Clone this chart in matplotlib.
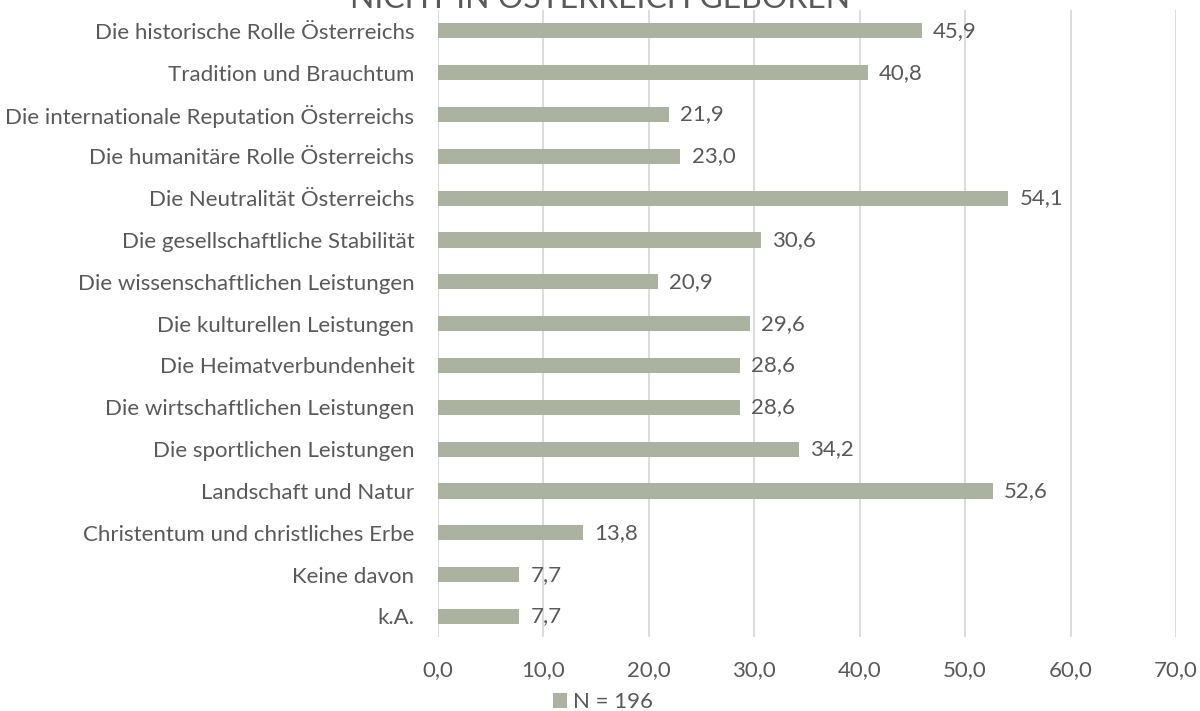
import matplotlib
matplotlib.use('Agg')
import matplotlib.pyplot as plt
import numpy as np

# Data (top to bottom as in the chart)
categories = [
    'Die historische Rolle Österreichs',
    'Tradition und Brauchtum',
    'Die internationale Reputation Österreichs',
    'Die humanitäre Rolle Österreichs',
    'Die Neutralität Österreichs',
    'Die gesellschaftliche Stabilität',
    'Die wissenschaftlichen Leistungen',
    'Die kulturellen Leistungen',
    'Die Heimatverbundenheit',
    'Die wirtschaftlichen Leistungen',
    'Die sportlichen Leistungen',
    'Landschaft und Natur',
    'Christentum und christliches Erbe',
    'Keine davon',
    'k.A.',
]
values = [45.9, 40.8, 21.9, 23.0, 54.1, 30.6, 20.9, 29.6, 28.6, 28.6, 34.2, 52.6, 13.8, 7.7, 7.7]
x_ticks = [0, 10, 20, 30, 40, 50, 60, 70]
series_name = 'N = 196'
title = 'NICHT IN ÖSTERREICH GEBOREN'

plt.rcParams['font.family'] = ['Lato', 'DejaVu Sans']
text_color = '#595959'
bar_color = '#abb3a0'
grid_color = '#d9d9d9'
fs = 16

fig = plt.figure(figsize=(12, 7.11), dpi=100)
ax = fig.add_axes([438 / 1200, 1 - 637.4 / 711, (1176 - 438) / 1200, (637.4 - 9.9) / 711])

y = np.arange(len(categories))
bars = ax.barh(y, values, height=0.36, color=bar_color, label=series_name, zorder=3)

ax.set_ylim(len(categories) - 0.5, -0.5)
ax.set_xlim(0, 70)
ax.set_yticks(y)
ax.set_yticklabels(categories, fontsize=fs, color=text_color)
ax.set_xticks(x_ticks)
ax.set_xticklabels([f'{t:.1f}'.replace('.', ',') for t in x_ticks], fontsize=fs, color=text_color)
ax.tick_params(axis='both', length=0)
ax.tick_params(axis='y', pad=17)
ax.tick_params(axis='x', pad=16)

ax.grid(axis='x', color=grid_color, linewidth=1.3, zorder=0)
for s in ax.spines.values():
    s.set_visible(False)

for bar, v in zip(bars, values):
    ax.annotate(f'{v:.1f}'.replace('.', ','), (bar.get_width(), bar.get_y() + bar.get_height() / 2),
                xytext=(8, 0), textcoords='offset points', va='center', ha='left',
                fontsize=fs, color=text_color)

leg = fig.legend(loc='center', bbox_to_anchor=(603 / 1200, 1 - 702 / 711), frameon=False,
                 fontsize=fs, handlelength=0.65, handleheight=0.65, handletextpad=0.25,
                 labelcolor=text_color, borderpad=0, borderaxespad=0)

fig.text(0.5, 1 - 8 / 711, title, ha='center', va='baseline', fontsize=23, color=text_color)

fig.savefig('out.png', dpi=100)
